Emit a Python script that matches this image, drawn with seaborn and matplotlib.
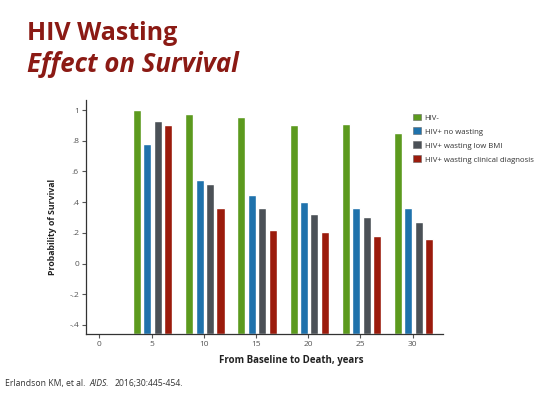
import numpy as np
import pandas as pd
import matplotlib
matplotlib.use("Agg")
import matplotlib.pyplot as plt
from matplotlib.ticker import FuncFormatter
import seaborn as sns

# values
years = [5, 10, 15, 20, 25, 30]
groups = ["HIV-", "HIV+ no wasting", "HIV+ wasting low BMI",
          "HIV+ wasting clinical diagnosis"]
hiv_neg = [1.00, 0.977, 0.957, 0.902, 0.907, 0.850]
no_wasting = [0.780, 0.547, 0.447, 0.401, 0.362, 0.362]
low_bmi = [0.928, 0.518, 0.362, 0.323, 0.300, 0.269]
clinical = [0.905, 0.362, 0.221, 0.206, 0.182, 0.158]
colors = ["#5C9A1E", "#1F72AC", "#4B5157", "#9B1B0C"]
y_bottom = -0.46

df = pd.DataFrame({
    "year": years * 4,
    "group": np.repeat(groups, len(years)),
    "surv": hiv_neg + no_wasting + low_bmi + clinical,
})

sns.set_style("white")
plt.rcParams["font.family"] = ["Open Sans", "DejaVu Sans"]

fig = plt.figure(figsize=(5.4, 4.05), dpi=100)
ax = fig.add_axes([0.159, 0.175, 0.661, 0.578])

sns.barplot(data=df, x="year", y="surv", hue="group", hue_order=groups,
            palette=colors, native_scale=True, width=0.8, gap=0.23,
            saturation=1, ax=ax, legend=False)

# bars in the original rise from the bottom of the axis, not from zero
for p in ax.patches:
    top = p.get_y() + p.get_height()
    p.set_y(y_bottom)
    p.set_height(top - y_bottom)
    p.set_x(p.get_x() + 0.1)

ax.set_xlim(-1.3, 32.9)
ax.set_ylim(y_bottom, 1.065)
ax.set_xticks([0, 5, 10, 15, 20, 25, 30])
ax.set_yticks([-0.4, -0.2, 0, 0.2, 0.4, 0.6, 0.8, 1.0])

def fmt(v, pos):
    if abs(v) < 1e-9:
        return "0"
    if abs(v - 1) < 1e-9:
        return "1"
    s = f"{v:.1f}"
    return s.replace("0.", ".")

ax.yaxis.set_major_formatter(FuncFormatter(fmt))
ax.tick_params(axis="both", labelsize=6, colors="#555555", length=3,
               width=0.8, direction="out", bottom=True, left=True, pad=2)
for side in ["top", "right"]:
    ax.spines[side].set_visible(False)
for side in ["left", "bottom"]:
    ax.spines[side].set_color("#333333")
    ax.spines[side].set_linewidth(0.9)

ax.set_xlabel("From Baseline to Death, years", fontsize=7, fontweight="bold",
              color="#222222")
ax.xaxis.set_label_coords(0.575, -0.09)
ax.set_ylabel("Probability of Survival", fontsize=6.3, fontweight="bold",
              color="#222222")
ax.yaxis.set_label_coords(-0.082, 0.46)

handles = [plt.Rectangle((0, 0), 1, 1, facecolor=c, edgecolor="#666666",
                         linewidth=0.4) for c in colors]
fig.legend(handles, groups, loc="upper left", bbox_to_anchor=(0.752, 0.737),
           frameon=False, fontsize=5.6, handlelength=1.0, handleheight=1.0,
           handletextpad=0.5, labelspacing=0.75, labelcolor="#333333")

fig.text(0.05, 0.901, "HIV Wasting", fontsize=18, fontweight="bold",
         color="#8B1A14")
fig.text(0.05, 0.822, "Effect on Survival", fontsize=18.5, fontweight="bold",
         style="italic", color="#8B1A14")

fig.text(0.009, 0.047, "Erlandson KM, et al. ", fontsize=6.2, color="#333333")
fig.text(0.009 + 0.157, 0.047, "AIDS.", fontsize=6.2, style="italic",
         color="#333333")
fig.text(0.009 + 0.203, 0.047, "2016;30:445-454.", fontsize=6.2,
         color="#333333")

fig.savefig("out.png", dpi=100)
